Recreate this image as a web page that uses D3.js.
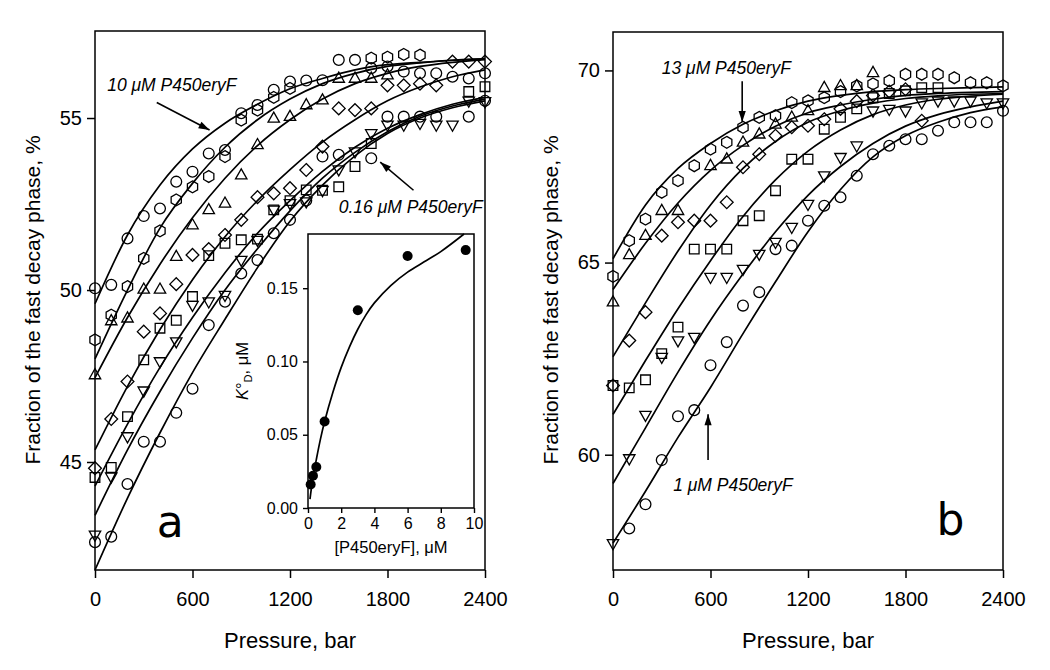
<!DOCTYPE html>
<html><head><meta charset="utf-8">
<script src="https://cdn.jsdelivr.net/npm/d3@7"></script>
<style>body{margin:0;background:#fff}svg{display:block}</style>
</head><body>
<svg id="chart" width="1050" height="670"></svg>
<script>
// ---------- DATA ----------
const pressure = [0,100,200,300,400,500,600,700,800,900,1000,1100,1200,1300,1400,1500,1600,1700,1800,1900,2000,2100,2200,2300,2400];
const fitPressure = [0,200,400,600,800,1000,1200,1400,1600,1800,2000,2200,2400];
const pressureTicks = [0,600,1200,1800,2400];

// panel a (10 µM ... 0.16 µM P450eryF)
const aCircleTop = [50.05,50.15,51.5,52.15,52.37,53.15,53.44,53.97,54.07,55.14,55.38,55.82,56.06,56.09,56.1,56.69,56.69,56.45,56.5,56.35,56.3,56.3,56.2,56.15,56.3];
const aHexagon   = [48.55,49.27,50.1,50.92,51.72,52.62,53.0,53.3,53.88,54.94,55.23,55.6,55.86,null,null,null,null,56.74,56.77,56.85,56.83,null,null,null,null];
const aTriangle  = [47.53,49.1,49.18,50.02,50.02,50.97,51.89,52.33,52.52,53.34,54.22,54.99,55.04,55.38,55.52,56.15,56.15,56.15,56.25,null,null,null,null,null,null];
const aDiamond   = [44.82,46.25,47.34,48.79,49.32,50.17,51.02,51.19,51.6,52.04,52.7,52.81,52.96,53.49,54.17,55.28,55.23,55.28,55.95,55.95,56.0,55.95,56.64,56.64,56.64];
const aSquare    = [44.55,44.84,46.32,47.97,48.89,49.12,49.81,51.0,51.36,51.46,51.48,52.33,52.6,52.91,52.9,53.0,53.59,54.26,null,null,null,null,null,55.77,55.91];
const aTriDown   = [42.88,44.57,45.74,47.07,47.92,48.5,49.56,49.66,49.85,50.87,51.45,52.33,52.52,52.57,52.9,53.5,54.02,54.55,54.8,54.8,54.85,54.8,54.8,55.5,55.48];
const aCircleLow = [42.67,42.83,44.36,45.59,45.59,46.43,47.13,48.98,49.66,50.48,50.87,51.65,52.04,52.6,53.88,53.93,null,53.83,55.04,55.04,55.04,55.04,null,55.04,55.5];

const aFitCircleTop = [49.6,51.6,53.05,54.1,54.85,55.4,55.85,56.15,56.4,56.55,56.62,56.68,56.72];
const aFitHexagon   = [48.0,50.0,51.8,53.1,54.15,54.95,55.55,56.0,56.3,56.5,56.6,56.68,56.72];
const aFitTriangle  = [47.45,49.2,50.75,52.1,53.25,54.2,54.95,55.55,56.0,56.3,56.5,56.62,56.7];
const aFitDiamond   = [45.35,47.2,48.85,50.3,51.55,52.6,53.5,54.3,54.95,55.5,55.9,56.2,56.4];
const aFitSquare    = [44.3,46.1,47.75,49.2,50.5,51.65,52.6,53.45,54.15,54.7,55.1,55.4,55.6];
const aFitTriDown   = [43.45,45.35,47.05,48.6,50.0,51.2,52.3,53.25,54.0,54.6,55.05,55.35,55.55];
const aFitCircleLow = [41.86,43.95,45.85,47.6,49.15,50.65,52.0,53.05,53.9,54.55,55.0,55.3,55.5];
const aYTicks = [45,50,55];

// panel b (13 µM ... 1 µM P450eryF)
const bHexagon  = [64.64,65.57,66.13,66.83,67.13,67.52,67.95,68.13,68.52,68.78,68.82,69.16,69.21,69.29,69.45,69.6,69.65,69.73,69.9,69.9,69.9,69.81,69.68,69.68,69.6];
const bTriangle = [63.97,65.2,65.7,66.35,66.35,null,67.52,67.69,68.13,68.34,68.6,68.78,68.95,69.55,69.6,69.6,69.94,null,null,null,null,null,null,null,null];
const bDiamond  = [61.8,62.97,63.71,65.7,66.05,66.09,66.09,66.57,67.48,67.82,68.3,68.52,68.56,68.73,69.0,69.2,69.35,69.45,69.51,68.69,null,null,null,null,null];
const bSquare   = [61.8,61.74,61.95,62.63,63.32,65.35,65.35,65.35,66.09,66.22,66.87,67.69,67.69,68.47,68.78,69.0,69.29,69.4,69.47,69.55,69.55,null,null,null,null];
const bTriDown  = [57.69,59.9,61.03,62.54,62.97,63.06,64.62,64.62,64.83,65.22,65.53,65.92,66.52,67.26,67.74,68.04,68.95,68.99,68.95,69.16,69.21,69.21,69.21,69.16,69.16];
const bCircle   = [null,58.08,58.71,59.86,61.0,61.16,62.33,62.93,63.88,64.23,65.35,65.44,66.09,66.48,66.7,67.26,67.82,68.04,68.21,68.21,68.43,68.65,68.65,68.65,68.95];

const bFitHexagon  = [65.1,66.5,67.45,68.1,68.6,68.95,69.2,69.35,69.45,69.5,69.53,69.55,69.57];
const bFitTriangle = [64.3,65.5,66.55,67.4,68.05,68.55,68.9,69.1,69.25,69.35,69.4,69.43,69.45];
const bFitDiamond  = [62.55,63.95,65.3,66.5,67.45,68.15,68.65,68.95,69.15,69.27,69.34,69.38,69.4];
const bFitSquare   = [61.05,62.45,63.8,65.05,66.2,67.15,67.9,68.45,68.85,69.1,69.25,69.33,69.38];
const bFitTriDown  = [59.25,60.7,62.15,63.5,64.7,65.8,66.75,67.5,68.1,68.55,68.85,69.05,69.2];
const bFitCircle   = [57.7,59.05,60.45,61.75,63.15,64.5,65.8,66.9,67.75,68.3,68.65,68.9,69.05];
const bYTicks = [60,65,70];

// inset
const insetConc  = [0.16,0.3,0.5,1,3,6,9.5];
const insetKd    = [0.016,0.022,0.028,0.059,0.135,0.172,0.176];
const insetFitConc = [0.12,0.2,0.35,0.5,0.75,1.0,1.5,2.0,2.5,3.0,3.5,4.0,5.0,6.0,7.0,8.0,9.4];
const insetFitKd   = [0.006,0.013,0.024,0.033,0.047,0.059,0.079,0.096,0.11,0.122,0.132,0.14,0.152,0.161,0.168,0.175,0.187];
const insetXTicks = [0,2,4,6,8,10];
const insetYTicks = [0,0.05,0.10,0.15];

// ---------- DRAW ----------
const svg = d3.select('#chart');
svg.append('rect').attr('width',1050).attr('height',670).attr('fill','#fff');
const FONT = 'Liberation Sans, Arial, sans-serif';

function markerPath(type){
  const p = d3.path();
  if(type==='circle'){ p.arc(0,0,5.4,0,2*Math.PI); }
  else if(type==='square'){ p.rect(-4.8,-4.8,9.6,9.6); }
  else if(type==='triangle'){ p.moveTo(0,-6.3); p.lineTo(5.7,3.8); p.lineTo(-5.7,3.8); p.closePath(); }
  else if(type==='triDown'){ p.moveTo(0,6.3); p.lineTo(5.7,-3.8); p.lineTo(-5.7,-3.8); p.closePath(); }
  else if(type==='diamond'){ p.moveTo(0,-6.4); p.lineTo(6.4,0); p.lineTo(0,6.4); p.lineTo(-6.4,0); p.closePath(); }
  else if(type==='hexagon'){ for(let k=0;k<6;k++){const a=(-90+60*k)*Math.PI/180; const x=5.9*Math.cos(a), y=5.9*Math.sin(a); if(k===0)p.moveTo(x,y); else p.lineTo(x,y);} p.closePath(); }
  return p.toString();
}

function panel(cfg){
  const x = d3.scaleLinear().domain([0,2400]).range([cfg.left,cfg.right]);
  const y = d3.scaleLinear().domain(cfg.yDomain).range([570,cfg.top]);
  const g = svg.append('g');

  const line = d3.line().x(d=>x(d[0])).y(d=>y(d[1])).curve(d3.curveMonotoneX);
  cfg.fits.forEach(f=>{
    g.append('path').attr('d', line(fitPressure.map((p,i)=>[p,f[i]])))
      .attr('fill','none').attr('stroke','#000').attr('stroke-width',1.7);
  });
  cfg.series.forEach(s=>{
    const pts = pressure.map((p,i)=>[p,s.values[i]]).filter(d=>d[1]!=null);
    g.selectAll(null).data(pts).enter().append('path')
      .attr('d', markerPath(s.type))
      .attr('transform', d=>`translate(${x(d[0])},${y(d[1])})`)
      .attr('fill','none').attr('stroke','#000').attr('stroke-width',1.3);
  });

  g.append('rect').attr('x',cfg.left).attr('y',cfg.top).attr('width',cfg.right-cfg.left).attr('height',570-cfg.top)
    .attr('fill','none').attr('stroke','#000').attr('stroke-width',1.5);

  const xa = g.append('g').attr('transform','translate(0,570)')
    .call(d3.axisBottom(x).tickValues(pressureTicks).tickSize(8).tickPadding(14).tickFormat(d3.format('d')));
  const ya = g.append('g').attr('transform',`translate(${cfg.left},0)`)
    .call(d3.axisLeft(y).tickValues(cfg.yTicks).tickSize(8).tickPadding(5).tickFormat(d3.format('d')));
  [xa,ya].forEach(a=>{
    a.select('.domain').remove();
    a.selectAll('line').attr('stroke','#000').attr('stroke-width',1.5);
    a.selectAll('text').attr('font-family',FONT).attr('font-size',20).attr('fill','#000');
  });

  g.append('text').attr('x',(cfg.left+cfg.right)/2).attr('y',648).attr('text-anchor','middle')
    .attr('font-family',FONT).attr('font-size',22).text('Pressure, bar');
  g.append('text').attr('transform',`translate(${cfg.left-55},300) rotate(-90)`).attr('text-anchor','middle')
    .attr('font-family',FONT).attr('font-size',21).text('Fraction of the fast decay phase, %');

  g.append('text').attr('x',x(cfg.letterP)).attr('y',cfg.letterY).attr('font-family','DejaVu Sans, sans-serif')
    .attr('font-size',44).text(cfg.letter);
  return {x,y,g};
}

function arrow(g, x1,y1,x2,y2){
  g.append('line').attr('x1',x1).attr('y1',y1).attr('x2',x2).attr('y2',y2).attr('stroke','#000').attr('stroke-width',1.6);
  const ang = Math.atan2(y2-y1,x2-x1), L=11, W=3.6;
  const bx = x2-L*Math.cos(ang), by = y2-L*Math.sin(ang);
  const px = -Math.sin(ang)*W, py = Math.cos(ang)*W;
  g.append('path').attr('d',`M${x2},${y2}L${bx+px},${by+py}L${bx-px},${by-py}Z`).attr('fill','#000');
}
function label(g, x, y, txt){
  g.append('text').attr('x',x).attr('y',y).attr('font-family',FONT).attr('font-style','italic')
    .attr('font-size',17.5).text(txt);
}

// panel a
const A = panel({left:95,right:485,top:31,yDomain:[41.86,57.53],yTicks:aYTicks,letter:'a',letterP:380,letterY:537,
  fits:[aFitCircleTop,aFitHexagon,aFitTriangle,aFitDiamond,aFitSquare,aFitTriDown,aFitCircleLow],
  series:[{type:'circle',values:aCircleTop},{type:'hexagon',values:aHexagon},{type:'triangle',values:aTriangle},
          {type:'diamond',values:aDiamond},{type:'square',values:aSquare},{type:'triDown',values:aTriDown},
          {type:'circle',values:aCircleLow}]});
label(A.g, A.x(75), A.y(55.8), '10 μM P450eryF');
arrow(A.g, A.x(380), A.y(55.45), A.x(705), A.y(54.65));
label(A.g, A.x(1500), A.y(52.24), '0.16 μM P450eryF');
arrow(A.g, A.x(1960), A.y(52.9), A.x(1755), A.y(53.72));

// panel b
const B = panel({left:613,right:1003,top:32,yDomain:[57,71],yTicks:bYTicks,letter:'b',letterP:1990,letterY:535,
  fits:[bFitHexagon,bFitTriangle,bFitDiamond,bFitSquare,bFitTriDown,bFitCircle],
  series:[{type:'hexagon',values:bHexagon},{type:'triangle',values:bTriangle},{type:'diamond',values:bDiamond},
          {type:'square',values:bSquare},{type:'triDown',values:bTriDown},{type:'circle',values:bCircle}]});
label(B.g, B.x(300), B.y(69.9), '13 μM P450eryF');
arrow(B.g, B.x(795), B.y(69.72), B.x(795), B.y(68.66));
label(B.g, B.x(370), B.y(59.05), '1 μM P450eryF');
arrow(B.g, B.x(585), B.y(59.86), B.x(585), B.y(61.05));

// inset
const ix = d3.scaleLinear().domain([0,10]).range([308,474]);
const iy = d3.scaleLinear().domain([0,0.187]).range([508,234]);
const ig = svg.append('g');
ig.append('rect').attr('x',308).attr('y',234).attr('width',166).attr('height',274)
  .attr('fill','#fff').attr('stroke','#000').attr('stroke-width',1.5);
ig.append('path').attr('d', d3.line().x(d=>ix(d[0])).y(d=>iy(d[1])).curve(d3.curveCatmullRom)(insetFitConc.map((c,i)=>[c,insetFitKd[i]])))
  .attr('fill','none').attr('stroke','#000').attr('stroke-width',1.7);
ig.selectAll(null).data(insetConc.map((c,i)=>[c,insetKd[i]])).enter().append('circle')
  .attr('cx',d=>ix(d[0])).attr('cy',d=>iy(d[1])).attr('r',5).attr('fill','#000');
const ixa = ig.append('g').attr('transform','translate(0,508)')
  .call(d3.axisBottom(ix).tickValues(insetXTicks).tickSize(5).tickPadding(5).tickFormat(d3.format('d')));
const iya = ig.append('g').attr('transform','translate(308,0)')
  .call(d3.axisLeft(iy).tickValues(insetYTicks).tickSize(5).tickPadding(5).tickFormat(d3.format('.2f')));
[ixa,iya].forEach(a=>{
  a.select('.domain').remove();
  a.selectAll('line').attr('stroke','#000').attr('stroke-width',1.4);
  a.selectAll('text').attr('font-family',FONT).attr('font-size',16).attr('fill','#000');
});
ig.append('text').attr('x',391).attr('y',553).attr('text-anchor','middle').attr('font-family',FONT).attr('font-size',16.5)
  .text('[P450eryF], μM');
const kt = ig.append('text').attr('transform','translate(248,371) rotate(-90)').attr('text-anchor','middle')
  .attr('font-family',FONT).attr('font-size',16.5);
kt.append('tspan').attr('font-style','italic').text('K');
kt.append('tspan').text('°');
kt.append('tspan').attr('font-size',11).attr('dy',4).text('D');
kt.append('tspan').attr('dy',-4).text(', μM');
</script>
</body></html>
